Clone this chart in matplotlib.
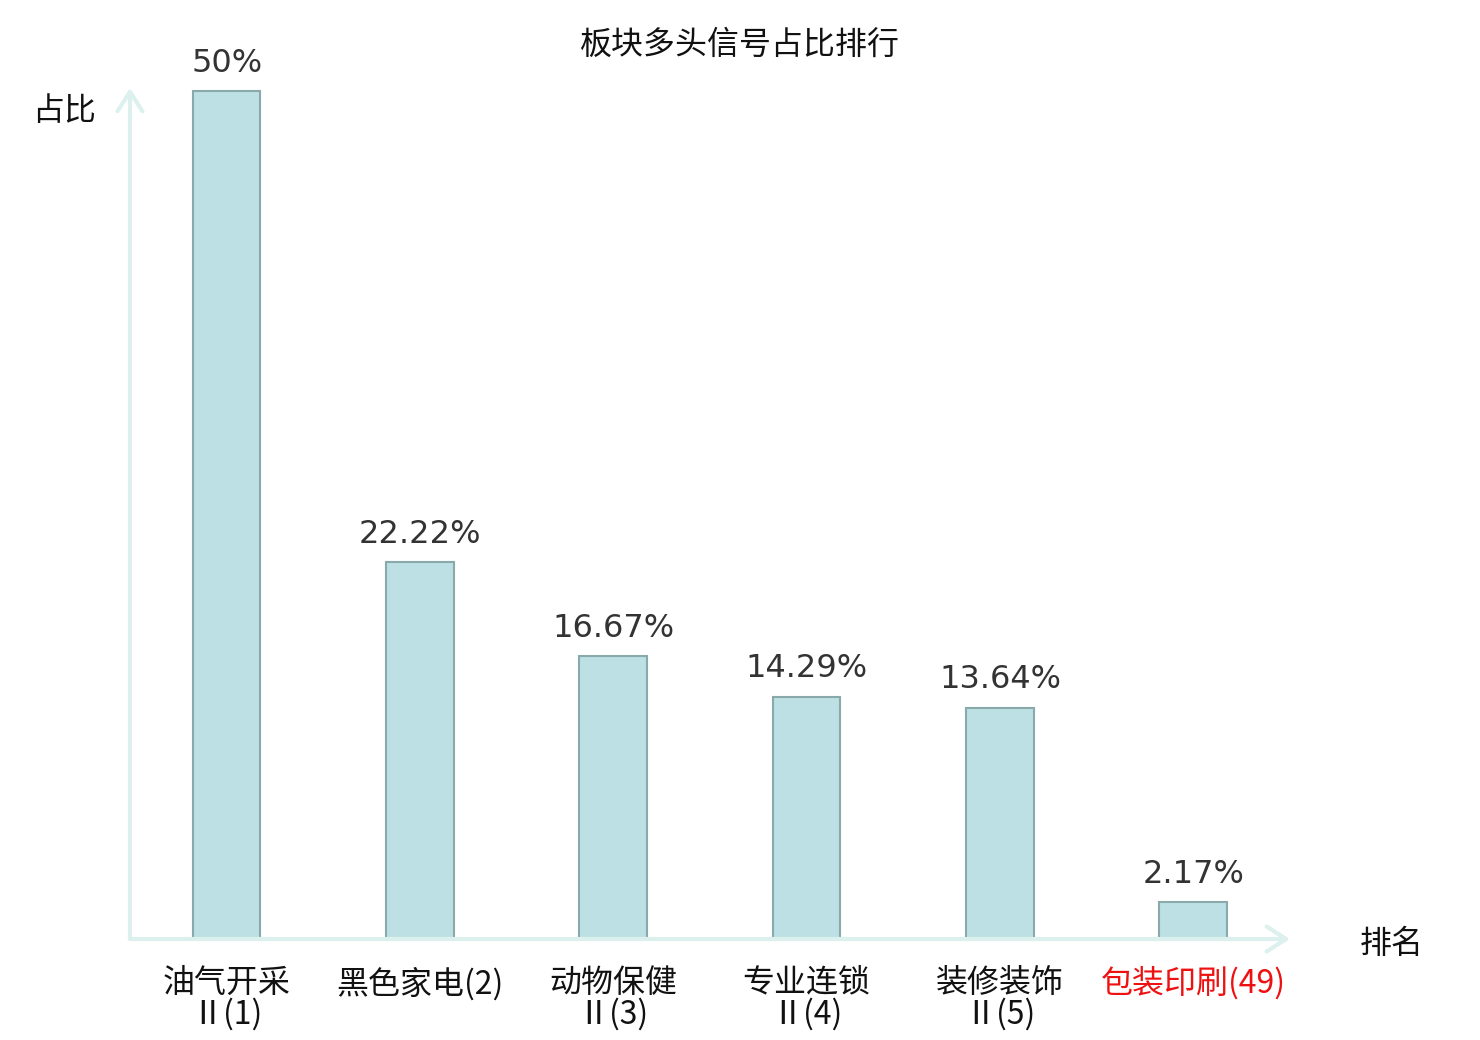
import matplotlib
matplotlib.use("Agg")
import matplotlib.pyplot as plt

plt.rcParams['font.family'] = ['Noto Sans CJK SC', 'DejaVu Sans']

# 数据
categories = ["油气开采\nⅡ(1)", "黑色家电(2)", "动物保健\nⅡ(3)",
              "专业连锁\nⅡ(4)", "装修装饰\nⅡ(5)", "包装印刷(49)"]
values = [50, 22.22, 16.67, 14.29, 13.64, 2.17]
value_labels = ["50%", "22.22%", "16.67%", "14.29%", "13.64%", "2.17%"]
highlight = [False, False, False, False, False, True]

fig = plt.figure(figsize=(14.8, 10.4), dpi=100)
ax = fig.add_axes([0.0878, 0.0971, 0.7838, 0.8183])

x = list(range(len(values)))
ax.bar(x, values, width=0.35, color='#bce0e3', edgecolor='#8aa9ab', linewidth=1.5, zorder=3)

for xi, v, lab in zip(x, values, value_labels):
    ax.annotate(lab, (xi, v), xytext=(0, 9), textcoords='offset points',
                ha='center', va='bottom', fontsize=23, color='#333333',
                family='DejaVu Sans')

ax.set_xlim(-0.5, 5.5)
ax.set_ylim(0, 50.2)

for s in ax.spines.values():
    s.set_visible(False)

# 坐标轴箭头
axis_col = '#dcf1ee'
arrow = dict(arrowstyle='->,head_length=0.7,head_width=0.45',
             color=axis_col, lw=3, shrinkA=0, shrinkB=0, mutation_scale=20)
ax.annotate('', xy=(1.0, 0), xytext=(0, 0), xycoords='axes fraction', arrowprops=arrow)
ax.annotate('', xy=(0, 1.0), xytext=(0, 0), xycoords='axes fraction', arrowprops=arrow)

ax.set_yticks([])
ax.set_xticks(x)
ax.set_xticklabels(categories, fontsize=23, linespacing=0.98)
ax.tick_params(axis='x', length=0, pad=20)
for lbl, hl in zip(ax.get_xticklabels(), highlight):
    lbl.set_color('#ee1111' if hl else '#111111')

fig.text(0.5, 0.957, '板块多头信号占比排行', ha='center', va='center', fontsize=23, color='#111111')
fig.text(0.043, 0.893, '占比', ha='center', va='center', fontsize=23, color='#111111')
fig.text(0.94, 0.092, '排名', ha='center', va='center', fontsize=23, color='#111111')

fig.savefig('out.png', dpi=100)
